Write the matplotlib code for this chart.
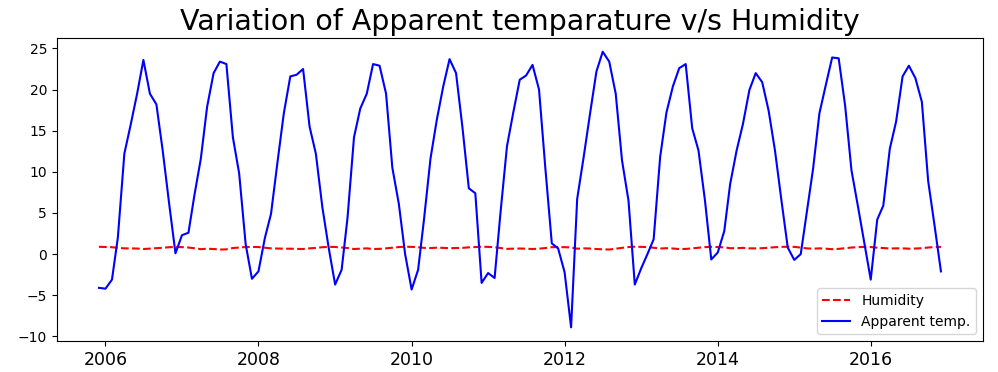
import matplotlib
matplotlib.use("Agg")
import matplotlib.pyplot as plt
import pandas as pd

# Monthly means, Dec 2005 .. Dec 2016
start_month = "2005-12-01"
end_month = "2016-12-01"

apparent_temp = [
    -4.1,                                                                    # 2005-12
    -4.2, -3.1, 2.0, 12.2, 15.7, 19.5, 23.6, 19.5, 18.2, 12.6, 6.1, 0.1,     # 2006
    2.3, 2.6, 7.1, 11.6, 17.9, 22.0, 23.4, 23.1, 14.2, 9.8, 1.2, -3.0,       # 2007
    -2.1, 2.0, 4.9, 11.2, 17.1, 21.6, 21.8, 22.5, 15.5, 12.2, 5.7, 0.8,      # 2008
    -3.7, -1.9, 4.4, 14.2, 17.7, 19.5, 23.1, 22.9, 19.5, 10.5, 6.1, 0.0,     # 2009
    -4.3, -1.9, 4.2, 11.6, 16.3, 20.4, 23.7, 22.0, 15.3, 8.0, 7.4, -3.5,     # 2010
    -2.3, -2.9, 5.0, 13.1, 17.2, 21.2, 21.7, 23.0, 20.0, 10.5, 1.3, 0.7,     # 2011
    -2.2, -8.9, 6.7, 11.8, 17.0, 22.2, 24.6, 23.4, 19.5, 11.4, 6.5, -3.7,    # 2012
    -1.7, 0.1, 1.8, 11.8, 17.2, 20.4, 22.6, 23.1, 15.3, 12.6, 6.5, -0.65,    # 2013
    0.2, 2.8, 8.5, 12.6, 15.8, 19.95, 22.0, 20.9, 17.4, 12.6, 6.5, 0.8,      # 2014
    -0.7, 0.0, 4.9, 10.4, 17.1, 20.6, 23.9, 23.8, 18.0, 10.2, 5.8, 1.4,      # 2015
    -3.1, 4.2, 5.9, 12.8, 16.1, 21.6, 22.9, 21.4, 18.5, 8.9, 3.4, -2.1,      # 2016
]

humidity = [
    0.89,
    0.87, 0.84, 0.76, 0.70, 0.69, 0.68, 0.62, 0.67, 0.71, 0.77, 0.84, 0.88,
    0.85, 0.80, 0.72, 0.60, 0.66, 0.62, 0.55, 0.58, 0.74, 0.80, 0.86, 0.88,
    0.86, 0.78, 0.70, 0.68, 0.66, 0.66, 0.64, 0.62, 0.70, 0.76, 0.84, 0.88,
    0.87, 0.80, 0.74, 0.62, 0.66, 0.70, 0.62, 0.64, 0.70, 0.78, 0.86, 0.90,
    0.88, 0.84, 0.76, 0.74, 0.78, 0.76, 0.72, 0.74, 0.76, 0.82, 0.86, 0.90,
    0.88, 0.84, 0.74, 0.64, 0.66, 0.68, 0.66, 0.62, 0.66, 0.74, 0.84, 0.86,
    0.84, 0.82, 0.66, 0.70, 0.68, 0.62, 0.58, 0.56, 0.66, 0.76, 0.86, 0.90,
    0.88, 0.86, 0.78, 0.68, 0.72, 0.68, 0.62, 0.63, 0.70, 0.78, 0.85, 0.88,
    0.86, 0.82, 0.72, 0.72, 0.76, 0.70, 0.70, 0.72, 0.78, 0.84, 0.88, 0.90,
    0.88, 0.80, 0.70, 0.66, 0.70, 0.66, 0.60, 0.64, 0.72, 0.80, 0.84, 0.88,
    0.86, 0.78, 0.74, 0.68, 0.70, 0.70, 0.66, 0.68, 0.72, 0.80, 0.86, 0.88,
]

dates = pd.date_range(start_month, end_month, freq="MS")

fig = plt.figure(figsize=(9.98, 3.72), dpi=100)
ax = fig.add_axes([0.057, 0.083, 0.928, 0.815])

ax.plot(dates, humidity, 'r--', label='Humidity', linewidth=1.5)
ax.plot(dates, apparent_temp, 'b-', label='Apparent temp.', linewidth=1.5)

ax.set_title('Variation of Apparent temparature v/s Humidity', fontsize=20.5)
ax.legend(loc='lower right', fontsize=10)
ax.tick_params(axis='x', labelsize=12.5)
ax.tick_params(axis='y', labelsize=10)

fig.savefig('out.png', dpi=100)
